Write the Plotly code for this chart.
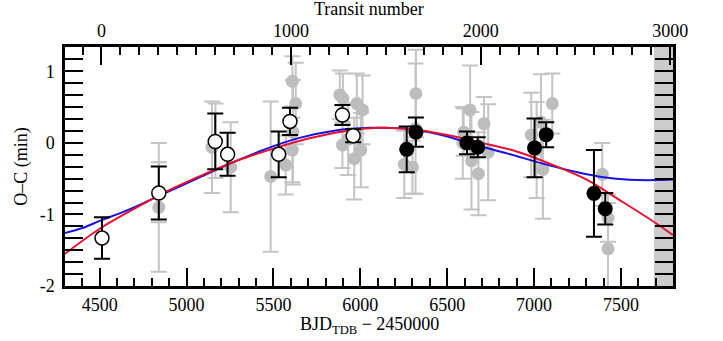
import plotly.graph_objects as go

# ---------------- data ----------------
# individual transit timings (grey)
gray_bjd = [4840, 4840, 5146, 5166, 5254, 5484, 5571, 5609, 5609, 5612, 5628,
            5882, 5900, 5897, 5930, 5965, 5980, 6003, 6013,
            6253, 6300, 6318, 6320,
            6590, 6595, 6632, 6640, 6680, 6712, 6736,
            6984, 7015, 7040, 7051, 7105,
            7393, 7426, 7426]
gray_oc = [-0.90, -0.69, -0.06, 0.03, -0.34, -0.47, -0.31, 0.86, -0.10, 0.15, 0.55,
           0.67, 0.62, -0.03, 0.05, -0.22, 0.55, -0.10, 0.46,
           -0.30, -0.34, 0.20, 0.69,
           0.00, 0.15, 0.46, -0.25, -0.43, 0.27, -0.13,
           0.11, -0.10, 0.29, -0.37, 0.55,
           -0.44, -1.05, -1.48]
gray_err = [0.90, 0.42, 0.64, 0.52, 0.63, 1.05, 0.41, 0.35, 0.45, 0.73, 0.57,
            0.34, 0.35, 0.32, 0.50, 0.57, 0.42, 0.52, 0.48,
            0.47, 0.37, 0.91, 0.61,
            0.50, 0.33, 0.62, 0.68, 0.58, 0.37, 0.67,
            0.59, 0.67, 0.67, 0.69, 0.42,
            0.44, 0.33, 0.64]

# binned points, earlier (open circles)
open_bjd = [4513, 4840, 5165, 5236, 5530, 5595, 5897, 5959]
open_oc = [-1.33, -0.70, 0.02, -0.16, -0.16, 0.30, 0.39, 0.10]
open_err = [0.29, 0.37, 0.39, 0.30, 0.32, 0.19, 0.14, 0.09]

# binned points, later (filled circles)
fill_bjd = [6267, 6320, 6614, 6676, 7003, 7070, 7345, 7410]
fill_oc = [-0.09, 0.15, 0.00, -0.06, -0.07, 0.115, -0.705, -0.92]
fill_err = [0.32, 0.205, 0.16, 0.14, 0.41, 0.175, 0.605, 0.22]

# model curves
decay_bjd = [4300, 4500, 4700, 4900, 5100, 5300, 5500, 5700, 5900, 6100,
             6300, 6500, 6700, 6900, 7100, 7300, 7500, 7700, 7800]
decay_oc = [-1.55, -1.20, -0.92, -0.66, -0.44, -0.24, -0.08, 0.06, 0.16, 0.21,
            0.19, 0.11, 0.00, -0.12, -0.30, -0.51, -0.81, -1.12, -1.29]
prec_bjd = [4300, 4400, 4500, 4650, 4850, 5050, 5250, 5450, 5650, 5850, 6050,
            6250, 6450, 6650, 6850, 7050, 7250, 7400, 7550, 7700, 7800]
prec_oc = [-1.26, -1.19, -1.09, -0.95, -0.73, -0.51, -0.29, -0.09, 0.07, 0.17, 0.21,
           0.20, 0.12, -0.02, -0.15, -0.29, -0.41, -0.48, -0.515, -0.52, -0.51]

# axes constants
XRANGE = [4300, 7800]
YRANGE = [-2.0, 1.34]
EPOCH = 4510.0
PERIOD = 1.0914
Y_TICKS = [-2, -1, 0, 1]
Y_TICKTEXT = ["-2\u2009", "-1\u2009", "0\u2009", "1\u2009"]
SHADE = [7690, 7800]

FONT = "Liberation Serif"
FS = 18

fig = go.Figure()

fig.add_trace(go.Scatter(
    x=gray_bjd, y=gray_oc, mode="markers",
    marker=dict(size=13, color="#bdbdbd"),
    error_y=dict(type="data", array=gray_err, color="#c4c4c4", thickness=2, width=8),
    showlegend=False, hoverinfo="skip"))

fig.add_trace(go.Scatter(
    x=prec_bjd, y=prec_oc, mode="lines", line=dict(color="#1a10e0", width=2, shape="spline"),
    showlegend=False, hoverinfo="skip"))
fig.add_trace(go.Scatter(
    x=decay_bjd, y=decay_oc, mode="lines", line=dict(color="#e8102e", width=2, shape="spline"),
    showlegend=False, hoverinfo="skip"))

fig.add_trace(go.Scatter(
    x=open_bjd, y=open_oc, mode="markers",
    marker=dict(size=14, color="white", line=dict(color="black", width=1.5)),
    error_y=dict(type="data", array=open_err, color="black", thickness=2, width=8),
    showlegend=False, hoverinfo="skip"))
fig.add_trace(go.Scatter(
    x=fill_bjd, y=fill_oc, mode="markers",
    marker=dict(size=15, color="black"),
    error_y=dict(type="data", array=fill_err, color="black", thickness=2, width=8),
    showlegend=False, hoverinfo="skip"))

# dummy trace on top axis so it is drawn
x2range = [(XRANGE[0] - EPOCH) / PERIOD, (XRANGE[1] - EPOCH) / PERIOD]
fig.add_trace(go.Scatter(x=x2range, y=[None, None], xaxis="x2", yaxis="y",
                         mode="lines", showlegend=False, hoverinfo="skip"))

fig.add_shape(type="rect", xref="x", yref="paper", x0=SHADE[0], x1=SHADE[1], y0=0, y1=1,
              fillcolor="#cccccc", line=dict(width=0), layer="below")

tickfont = dict(family=FONT, size=FS, color="black")
fig.update_layout(
    width=723, height=341,
    margin=dict(l=65, r=50, t=47, b=55),
    paper_bgcolor="white", plot_bgcolor="white",
    font=dict(family=FONT, size=FS, color="black"),
    xaxis=dict(range=XRANGE, showgrid=False, zeroline=False,
               showline=True, linecolor="black", linewidth=3,
               ticks="inside", ticklen=18, tickwidth=2, tickcolor="black",
               dtick=500, tick0=0, tickfont=tickfont,
               minor=dict(dtick=100, tick0=0, ticks="inside", ticklen=8, tickwidth=2, tickcolor="black")),
    xaxis2=dict(range=x2range, overlaying="x", side="top", anchor="y", showgrid=False, zeroline=False,
                showline=True, linecolor="black", linewidth=3,
                ticks="inside", ticklen=18, tickwidth=2, tickcolor="black",
                dtick=1000, tick0=0, tickfont=tickfont,
                minor=dict(dtick=100, tick0=0, ticks="inside", ticklen=8, tickwidth=2, tickcolor="black")),
    yaxis=dict(range=YRANGE, showgrid=False, zeroline=False,
               showline=True, linecolor="black", linewidth=3, mirror="allticks",
               ticks="inside", ticklen=18, tickwidth=2, tickcolor="black",
               tickvals=Y_TICKS, ticktext=Y_TICKTEXT, tickfont=tickfont,
               minor=dict(dtick=1 / 6, tick0=0, ticks="inside", ticklen=8, tickwidth=2, tickcolor="black")),
    annotations=[
        dict(text="Transit number", xref="paper", yref="paper", x=0.5, y=1.159,
             xanchor="center", yanchor="middle", showarrow=False, font=dict(family=FONT, size=FS)),
        dict(text="BJD<sub>TDB</sub> − 2450000", xref="paper", yref="paper", x=0.5, y=-0.165,
             xanchor="center", yanchor="middle", showarrow=False, font=dict(family=FONT, size=FS)),
        dict(text="O–C (min)", xref="paper", yref="paper", x=-0.072, y=0.5, textangle=-90,
             xanchor="center", yanchor="middle", showarrow=False, font=dict(family=FONT, size=FS)),
    ],
)

# remove the default page margin so the figure starts at the window corner
fig.write_html("out.html", config={"displayModeBar": False},
               post_script="document.body.style.margin='0px';document.body.style.overflow='hidden';")
